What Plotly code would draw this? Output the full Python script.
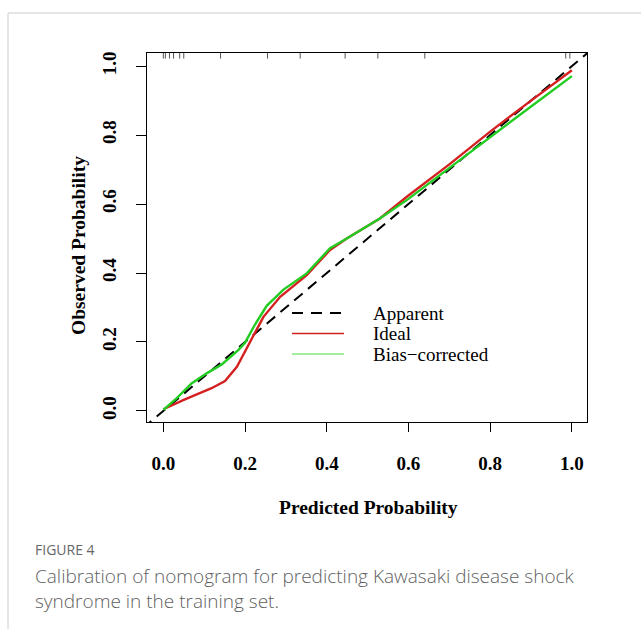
import plotly.graph_objects as go

# ---- data ----
ideal_x = [0.0, 0.05, 0.118, 0.151, 0.180, 0.200, 0.224, 0.245, 0.286, 0.351, 0.408, 0.449, 0.530, 0.596, 0.700, 0.800, 0.900, 1.0]
ideal_y = [0.005, 0.032, 0.066, 0.087, 0.128, 0.172, 0.227, 0.273, 0.331, 0.394, 0.467, 0.500, 0.558, 0.621, 0.715, 0.810, 0.900, 0.988]

bias_x = [0.0, 0.033, 0.069, 0.106, 0.143, 0.184, 0.200, 0.224, 0.253, 0.294, 0.351, 0.408, 0.449, 0.530, 0.600, 0.700, 0.800, 0.900, 1.0]
bias_y = [0.003, 0.037, 0.080, 0.109, 0.135, 0.177, 0.198, 0.250, 0.305, 0.352, 0.399, 0.472, 0.500, 0.558, 0.615, 0.705, 0.795, 0.883, 0.971]

diag = [-0.05, 1.06]

rug_x = [0.0, 0.005, 0.015, 0.025, 0.04, 0.05, 0.14, 0.255, 0.335, 0.445, 0.525, 0.64, 0.985, 0.995]

x_ticks = [0.0, 0.2, 0.4, 0.6, 0.8, 1.0]
y_ticks = [0.0, 0.2, 0.4, 0.6, 0.8, 1.0]
tick_text = ["0.0", "0.2", "0.4", "0.6", "0.8", "1.0"]

legend_names = ["Apparent", "Ideal", "Bias\u2212corrected"]

serif = "Liberation Serif, Times New Roman, serif"

fig = go.Figure()
fig.add_trace(go.Scatter(x=diag, y=diag, mode="lines",
                         line=dict(color="black", width=2, dash="11px,7px"),
                         showlegend=False, hoverinfo="skip"))
fig.add_trace(go.Scatter(x=ideal_x, y=ideal_y, mode="lines",
                         line=dict(color="#d42020", width=2.4),
                         showlegend=False))
fig.add_trace(go.Scatter(x=bias_x, y=bias_y, mode="lines",
                         line=dict(color="#22cc22", width=2.4),
                         showlegend=False))
fig.add_trace(go.Scatter(x=rug_x, y=[1.032] * len(rug_x), mode="markers",
                         marker=dict(symbol="line-ns", size=5,
                                     line=dict(color="#555", width=1)),
                         showlegend=False, hoverinfo="skip"))

L, R, T, B = 147, 587, 53, 422
W, H = 641, 629
pw, ph = R - L, B - T

def px(x):
    return (x - L) / pw

def py(y):
    return (B - y) / ph

shapes = []
# legend samples
shapes.append(dict(type="line", xref="paper", yref="paper", x0=px(292), x1=px(342),
                   y0=py(313), y1=py(313), line=dict(color="black", width=2, dash="11px,8px")))
shapes.append(dict(type="line", xref="paper", yref="paper", x0=px(292), x1=px(344),
                   y0=py(333.5), y1=py(333.5), line=dict(color="#d42020", width=1.6)))
shapes.append(dict(type="line", xref="paper", yref="paper", x0=px(292), x1=px(344),
                   y0=py(354), y1=py(354), line=dict(color="#44dd44", width=1.2)))

# page frame lines
shapes.append(dict(type="line", xref="paper", yref="paper", x0=px(8), x1=px(641),
                   y0=py(13), y1=py(13), line=dict(color="#cccccc", width=1)))
shapes.append(dict(type="line", xref="paper", yref="paper", x0=px(8), x1=px(8),
                   y0=py(13), y1=py(629), line=dict(color="#cccccc", width=1)))

annotations = []
for name, yy in zip(legend_names, [313, 333.5, 354]):
    annotations.append(dict(text=name, xref="paper", yref="paper", x=px(371), y=py(yy),
                            xanchor="left", yanchor="middle", showarrow=False,
                            font=dict(family=serif, size=19, color="black")))

annotations.append(dict(text="Predicted Probability", xref="paper", yref="paper",
                        x=px(368), y=py(507), xanchor="center", yanchor="middle",
                        showarrow=False,
                        font=dict(family=serif, size=19.5, color="black", weight="bold")))
annotations.append(dict(text="Observed Probability", xref="paper", yref="paper",
                        x=px(78), y=py(246), xanchor="center", yanchor="middle",
                        textangle=-90, showarrow=False,
                        font=dict(family=serif, size=19.5, color="black", weight="bold")))

cap_font = "Open Sans, Lato, sans-serif"
annotations.append(dict(text="FIGURE 4", xref="paper", yref="paper",
                        x=px(33), y=py(549), xanchor="left", yanchor="middle",
                        showarrow=False, font=dict(family=cap_font, size=14, color="#666666")))
annotations.append(dict(text="Calibration of nomogram for predicting Kawasaki disease shock<br>syndrome in the training set.",
                        xref="paper", yref="paper", x=px(33), y=py(588.5),
                        xanchor="left", yanchor="middle", align="left",
                        showarrow=False,
                        font=dict(family=cap_font, size=19, color="#5f5f5f", weight=300)))

fig.update_layout(
    width=W, height=H,
    margin=dict(l=L, r=W - R, t=T, b=H - B, pad=0),
    paper_bgcolor="white", plot_bgcolor="white",
    shapes=shapes, annotations=annotations,
    showlegend=False,
    xaxis=dict(range=[-0.04, 1.037], tickvals=x_ticks, ticktext=tick_text,
               ticks="outside", ticklen=9, tickwidth=1, tickcolor="black",
               showline=True, linecolor="black", linewidth=1, mirror=True,
               showgrid=False, zeroline=False, ticklabelstandoff=15,
               tickfont=dict(family=serif, size=19, color="black", weight="bold")),
    yaxis=dict(range=[-0.032, 1.038], tickvals=y_ticks, ticktext=tick_text,
               ticks="outside", ticklen=10, tickwidth=1, tickcolor="black",
               showline=True, linecolor="black", linewidth=1, mirror=True,
               showgrid=False, zeroline=False, tickangle=-90, ticklabelstandoff=12,
               tickfont=dict(family=serif, size=19, color="black", weight="bold")),
)

fig.write_html("out.html")
